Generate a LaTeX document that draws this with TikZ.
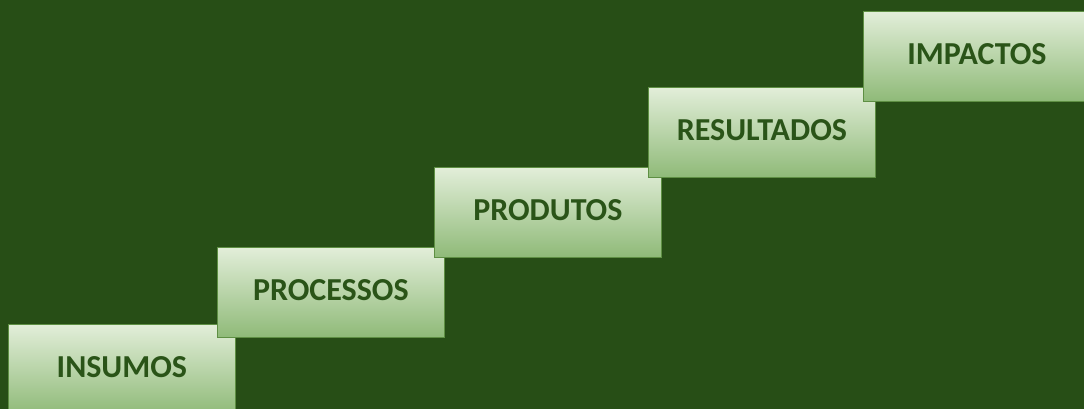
\documentclass[tikz,border=0pt]{standalone}
\usepackage{fontspec}
\setmainfont{Carlito}
\definecolor{bgg}{HTML}{274E16}
\definecolor{txtg}{HTML}{2A5418}
\definecolor{topg}{HTML}{E2EED9}
\definecolor{midg}{HTML}{BBD7AA}
\definecolor{botg}{HTML}{8FBA78}
\definecolor{edgeg}{HTML}{5E8F43}
\tikzset{
  stepbox/.style={draw=edgeg, line width=0.8pt, top color=topg, middle color=midg, bottom color=botg,
    minimum width=227pt, minimum height=90pt, anchor=north west, inner sep=0pt,
    text=txtg, font=\bfseries\fontsize{32}{38}\selectfont, text height=20pt, text depth=4pt}
}
\begin{document}
\begin{tikzpicture}[x=1pt,y=-1pt]
\useasboundingbox (0,0) rectangle (1084,409);
\fill[bgg] (0,0) rectangle (1084,409);
\clip (0,0) rectangle (1084,409);
\node[stepbox] (insumos) at (8,324) {INSUMOS};
\node[stepbox] (processos) at (217,247) {PROCESSOS};
\node[stepbox] (produtos) at (434,167) {PRODUTOS};
\node[stepbox] (resultados) at (648,87) {RESULTADOS};
\node[stepbox] (impactos) at (863,11) {IMPACTOS};
\end{tikzpicture}
\end{document}
